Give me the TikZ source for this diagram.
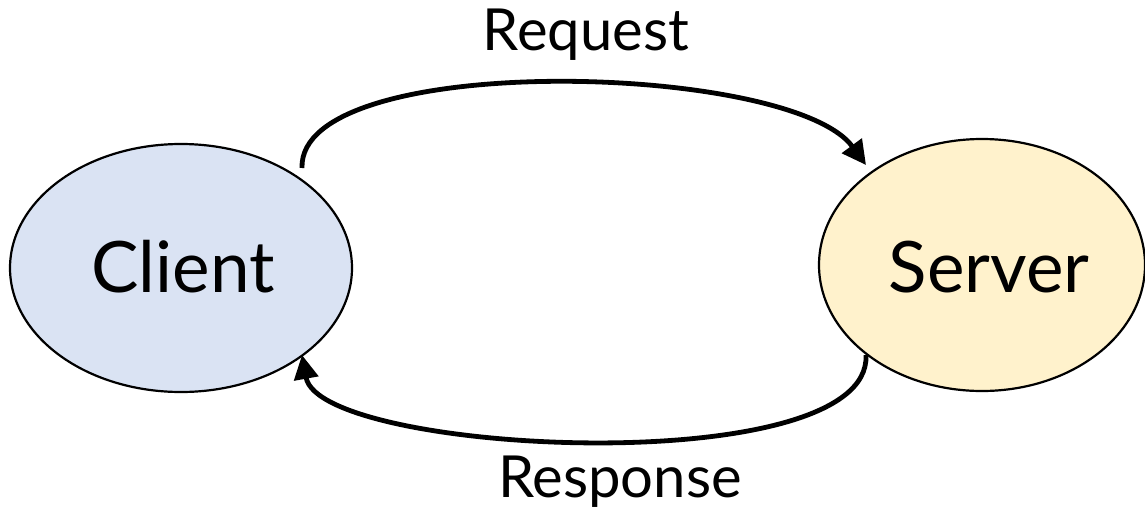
\documentclass[tikz,border=0pt]{standalone}
\usepackage{fontspec}
\setmainfont{Lato}
\usetikzlibrary{arrows.meta,shapes.geometric}
\definecolor{clientfill}{HTML}{DAE3F3}
\definecolor{serverfill}{HTML}{FFF2CC}
\begin{document}
\begin{tikzpicture}[x=1pt,y=-1pt,
  blob/.style={ellipse,draw=black,line width=2.2pt,inner sep=0pt},
  flow/.style={line width=4.8pt,-{Triangle[length=24pt,width=24pt]}},
  lbl/.style={font=\fontsize{58}{62}\selectfont},
  big/.style={font=\fontsize{71}{75}\selectfont}]
\useasboundingbox (0,0) rectangle (1145,516);
\node[blob,fill=clientfill,minimum width=342pt,minimum height=248pt] (client) at (181,268) {};
\node[big] (clienttxt) at (183,267) {Client};
\node[blob,fill=serverfill,minimum width=326pt,minimum height=252pt] (server) at (982,265) {};
\node[big] (servertxt) at (989,267) {Server};
\coordinate (rqs) at (302,168);
\coordinate (rqe) at (866,165);
\coordinate (rss) at (866,355);
\coordinate (rse) at (302,355);
\draw[flow] (rqs) .. controls (298,50) and (790,62) .. (rqe);
\draw[flow] (rss) .. controls (872,482) and (320,455) .. (rse);
\node[lbl] (req) at (586,35) {Request};
\node[lbl] (resp) at (620,482) {Response};
\end{tikzpicture}
\end{document}
